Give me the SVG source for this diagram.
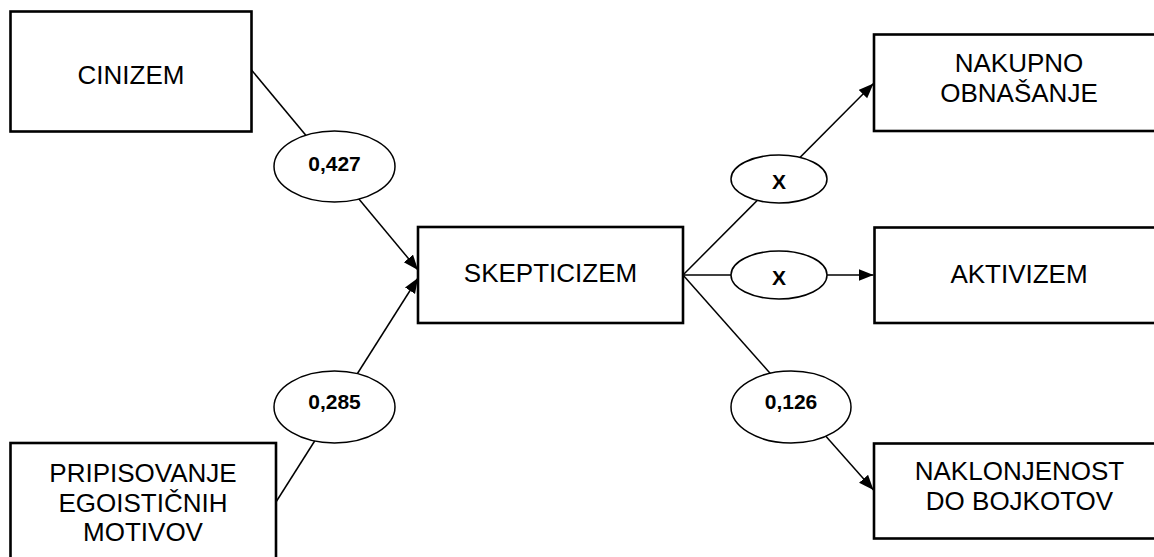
<svg xmlns="http://www.w3.org/2000/svg" width="1154" height="557" viewBox="0 0 1154 557">
<defs>
<marker id="arr" markerUnits="userSpaceOnUse" markerWidth="16" markerHeight="14" refX="15" refY="6" orient="auto">
<path d="M0,0 L15,6 L0,12 Z" fill="#000"/>
</marker>
<style>
.box{fill:#fff;stroke:#000;stroke-width:2.6}
.lbl{fill:#fff;stroke:#000;stroke-width:1.5}
.t{font-family:"Liberation Sans",Arial,sans-serif;font-size:26px;fill:#000;text-anchor:middle}
.b{font-family:"Liberation Sans",Arial,sans-serif;font-size:21px;font-weight:bold;fill:#000;text-anchor:middle}
.c{stroke:#000;stroke-width:1.5;fill:none}
</style>
</defs>
<rect width="1154" height="557" fill="#fff"/>
<g id="connectors">
<line class="c" x1="251.5" y1="70" x2="418" y2="270" marker-end="url(#arr)"/>
<line class="c" x1="276" y1="502" x2="418" y2="278" marker-end="url(#arr)"/>
<line class="c" x1="683" y1="275" x2="873.5" y2="83.5" marker-end="url(#arr)"/>
<line class="c" x1="683" y1="275" x2="873.5" y2="275" marker-end="url(#arr)"/>
<line class="c" x1="683" y1="275" x2="873.5" y2="490" marker-end="url(#arr)"/>
</g>
<g id="cinizem">
<rect class="box" x="10.5" y="11.5" width="241" height="120"/>
<text class="t" x="131" y="84">CINIZEM</text>
</g>
<g id="pripisovanje">
<rect class="box" x="10.5" y="443" width="265.5" height="130"/>
<text class="t" x="143" y="481.5">PRIPISOVANJE</text>
<text class="t" x="143" y="511.5">EGOISTIČNIH</text>
<text class="t" x="143" y="540.5">MOTIVOV</text>
</g>
<g id="skepticizem">
<rect class="box" x="418" y="227" width="265" height="96"/>
<text class="t" x="550.5" y="282">SKEPTICIZEM</text>
</g>
<g id="nakupno">
<rect class="box" x="874" y="34.5" width="300" height="96.5"/>
<text class="t" x="1019" y="71.5">NAKUPNO</text>
<text class="t" x="1019" y="101.5">OBNAŠANJE</text>
</g>
<g id="aktivizem">
<rect class="box" x="874.5" y="227.5" width="300" height="95.5"/>
<text class="t" x="1019" y="283">AKTIVIZEM</text>
</g>
<g id="naklonjenost">
<rect class="box" x="874" y="443.5" width="300" height="95"/>
<text class="t" x="1019.5" y="479.5">NAKLONJENOST</text>
<text class="t" x="1019.5" y="510">DO BOJKOTOV</text>
</g>
<g id="label-0427">
<ellipse class="lbl" cx="334.5" cy="166.5" rx="60.5" ry="35.5"/>
<text class="b" x="334.5" y="170.5">0,427</text>
</g>
<g id="label-0285">
<ellipse class="lbl" cx="334.5" cy="407" rx="60.5" ry="36"/>
<text class="b" x="334.5" y="408.5">0,285</text>
</g>
<g id="label-x1">
<ellipse class="lbl" cx="779" cy="179" rx="48" ry="24"/>
<text class="b" x="779" y="189">X</text>
</g>
<g id="label-x2">
<ellipse class="lbl" cx="779" cy="275" rx="48" ry="24"/>
<text class="b" x="779" y="285">X</text>
</g>
<g id="label-0126">
<ellipse class="lbl" cx="791" cy="407" rx="60" ry="36"/>
<text class="b" x="791" y="408.5">0,126</text>
</g>
</svg>
